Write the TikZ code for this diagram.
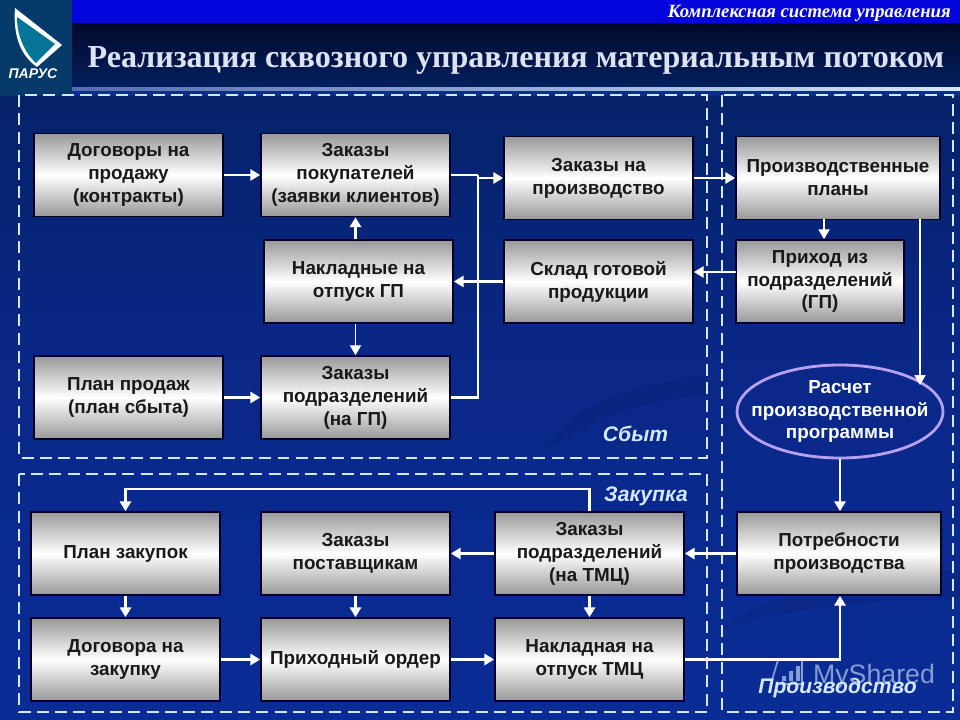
\documentclass[tikz,border=0pt]{standalone}
\usepackage{fontspec}
\setmainfont{Liberation Sans}
\newfontfamily\titlefont{Liberation Serif}
\usetikzlibrary{arrows.meta,shapes.geometric}
\definecolor{bgblue}{HTML}{0A2C96}
\definecolor{bgnavy}{HTML}{04205F}
\definecolor{barblue}{HTML}{0404DC}
\definecolor{titlenavy}{HTML}{010A2C}
\definecolor{logoblue}{HTML}{063A6B}
\definecolor{dashblue}{HTML}{D5E8FA}
\definecolor{boxgray}{HTML}{989898}
\definecolor{titlepale}{HTML}{DDE3F2}
\definecolor{ovalviolet}{HTML}{B8A0F0}
\tikzset{
  planbox/.style={draw=black!85!blue, line width=1.2pt, top color=boxgray, bottom color=boxgray, middle color=white,
    minimum width=4.725cm, minimum height=2.075cm, inner sep=0pt,
    align=center, font=\fontsize{13.4}{16.3}\selectfont\bfseries, text=black!90,
    execute at begin node={\vspace*{2.2pt}}},
  zone/.style={draw=dashblue, line width=1.9pt, dash pattern=on 8.5pt off 4.5pt},
  plainflow/.style={draw=white, line width=1.9pt},
  flow/.style={plainflow, -{Triangle[length=7pt,width=8pt]}},
  thinflow/.style={draw=white, line width=0.8pt, -{Triangle[length=7pt,width=8pt]}},
  zonelabel/.style={font=\fontsize{15}{18}\selectfont\bfseries\itshape, text=dashblue}
}
\begin{document}
\begin{tikzpicture}[x=0.025cm, y=-0.025cm]
  % --- фон и шапка ---
  \shade[top color=bgnavy, bottom color=bgblue, middle color=bgblue!90!black] (0,0) rectangle (960,720);
  \fill[black, opacity=.06] (545,450) .. controls (570,400) and (640,385) .. (705,375) -- (705,395) .. controls (640,400) and (590,420) .. cycle;
  \fill[black, opacity=.06] (720,630) .. controls (770,590) and (860,575) .. (960,570) -- (960,600) .. controls (860,600) and (780,610) .. cycle;
  \fill[bgblue] (72,88) rectangle (960,96);
  \fill[barblue] (72,0) rectangle (960,24);
  \shade[top color=titlenavy, bottom color=bgnavy] (72,24) rectangle (960,88);
  \shade[left color=bgblue!70!white, right color=dashblue] (72,88) rectangle (960,90.5);
  \fill[logoblue] (0,0) rectangle (72,96);
  \useasboundingbox (0,0) rectangle (960,720);

  % --- логотип ---
  \fill[white] (15,8) -- (62,45) -- (37,67) .. controls (20,55) and (13,35) .. (15,8);
  \fill[logoblue!70!cyan] (17,17) -- (55,44) -- (36,63) .. controls (24,52) and (17,35) .. (17,17);
  \node[font=\fontsize{10}{11}\selectfont\bfseries\itshape, text=white, inner sep=0pt] (logoname) at (33,74) {ПАРУС};

  % --- заголовок ---
  \node[anchor=east, font=\fontsize{13.3}{15}\selectfont\bfseries\itshape, text=white, inner sep=0pt] (subtitle) at (951,13.5)
    {\titlefont Комплексная система управления};
  \node[font=\fontsize{22.8}{26}\selectfont\bfseries, text=titlepale] (title) at (516,60.5)
    {\titlefont Реализация сквозного управления материальным потоком};

  % --- зоны ---
  \draw[zone] (19,95) rectangle (707,458);
  \draw[zone] (19,474) rectangle (707,712);
  \draw[zone] (722,95) rectangle (953,712);
  \node[zonelabel] (sales) at (635.5,434) {Сбыт};
  \node[zonelabel] (purchase) at (646,496) {Закупка};

  % --- значок и подпись поверх зоны ---
  \draw[dashblue!60!bgblue, line width=1.2pt] (772,680) -- (778,660) -- (802,660) -- (802,684) -- (778,684);
  \fill[dashblue!60!bgblue] (782,676) rectangle (786,681) (789,671) rectangle (793,681) (796,666) rectangle (800,681);
  \node[font=\fontsize{19}{22}\selectfont, text=dashblue!60!bgblue, inner sep=0pt] (watermark) at (874,677) {MyShared};
  \node[zonelabel] (production) at (837.5,688) {Производство};

  % --- блоки: Сбыт ---
  \node[planbox] (contracts) at (128.5,175) {Договоры на\\продажу\\(контракты)};
  \node[planbox] (custorders) at (355.5,175) {Заказы\\покупателей\\(заявки клиентов)};
  \node[planbox] (prodorders) at (598.5,178) {Заказы на\\производство};
  \node[planbox] (invoices) at (358.5,281.5) {Накладные на\\отпуск ГП};
  \node[planbox] (stock) at (598.5,281.5) {Склад готовой\\продукции};
  \node[planbox] (salesplan) at (128.5,397.5) {План продаж\\(план сбыта)};
  \node[planbox] (deptorders) at (355.5,397.5) {Заказы\\подразделений\\(на ГП)};

  % --- блоки: Производство ---
  \node[planbox, minimum width=5.1cm] (prodplans) at (838,178) {Производственные\\планы};
  \node[planbox, minimum width=4.2cm] (income) at (820,281.5) {Приход из\\подразделений\\(ГП)};
  \node[draw=ovalviolet, line width=2pt, fill=bgblue!92!black, ellipse, minimum width=5.15cm, minimum height=2.325cm,
    inner sep=0pt] (calc) at (840,411.5) {};
  \node[align=center, text=white, inner sep=0pt, font=\fontsize{13.4}{16.3}\selectfont\bfseries,
    execute at begin node={\vspace*{2.2pt}}] (calctext) at (calc)
    {Расчет\\производственной\\программы};
  \node[planbox, minimum width=5.1cm] (needs) at (839,553.5) {Потребности\\производства};

  % --- блоки: Закупка ---
  \node[planbox] (buyplan) at (125.5,553.5) {План закупок};
  \node[planbox] (suporders) at (355.5,553.5) {Заказы\\поставщикам};
  \node[planbox] (tmcorders) at (589.5,553.5) {Заказы\\подразделений\\(на ТМЦ)};
  \node[planbox] (buycontracts) at (125.5,659.5) {Договора на\\закупку};
  \node[planbox] (receipt) at (355.5,659.5) {Приходный ордер};
  \node[planbox] (tmcinvoice) at (589.5,659.5) {Накладная на\\отпуск ТМЦ};

  % --- связи ---
  \coordinate (join) at (478,175);
  \coordinate (joinout) at (478,178);
  \coordinate (planfork) at (920,219.5);
  \coordinate (calcin) at (920,385);
  \coordinate (planout) at (824,219.5);
  \coordinate (topleft) at (125.5,489);
  \coordinate (incomeout) at (736,272);

  \draw[flow] (contracts) -- (custorders);
  \draw[flow] (salesplan) -- (deptorders);
  \draw[plainflow] (custorders) -- (join);
  \draw[plainflow] (deptorders) -| (join);
  \draw[flow] (joinout) -- (prodorders);
  \draw[flow] (prodorders) -- (prodplans);
  \draw[flow] (incomeout) -- (stock.east |- incomeout);
  \draw[flow] (stock) -- (invoices);
  \draw[flow] (invoices.north -| custorders) -- (custorders);
  \draw[thinflow] (invoices.south -| custorders) -- (deptorders);
  \draw[thinflow] (planout) -- (income.north -| planout);
  \draw[thinflow] (planfork) -- (calcin);
  \draw[flow] (calc) -- (needs.north -| calc);
  \draw[flow] (needs) -- (tmcorders);
  \draw[flow] (tmcorders) -- (suporders);
  \draw[flow] (tmcorders.north) |- (topleft) -- (buyplan.north);
  \draw[flow] (buyplan) -- (buycontracts);
  \draw[flow] (suporders) -- (receipt);
  \draw[flow] (tmcorders) -- (tmcinvoice);
  \draw[flow] (buycontracts) -- (receipt);
  \draw[flow] (receipt) -- (tmcinvoice);
  \draw[flow] (tmcinvoice) -| (needs.south -| calc);
\end{tikzpicture}
\end{document}
